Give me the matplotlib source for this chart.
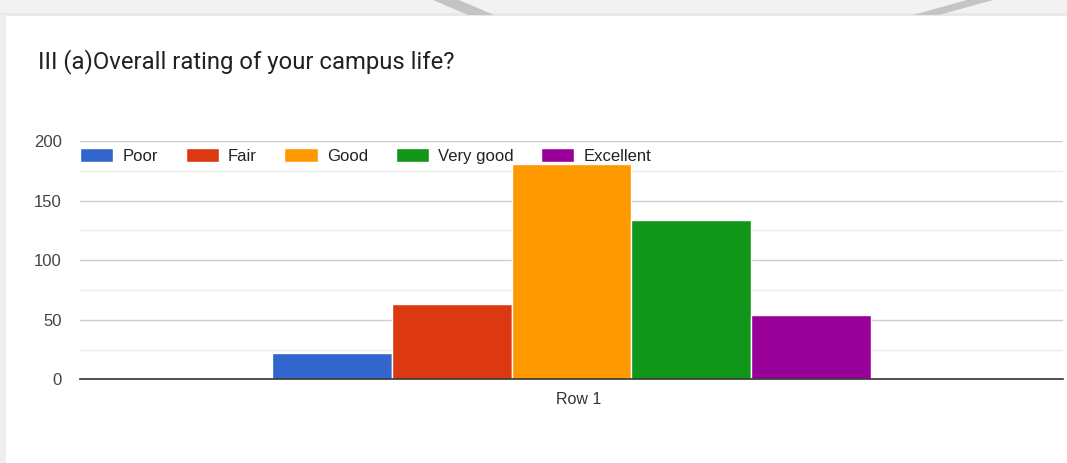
import matplotlib
matplotlib.use("Agg")
import matplotlib.pyplot as plt
import matplotlib.patches as mpatches
import matplotlib.transforms as mtransforms
import numpy as np

categories = ["Row 1"]
series_names = ["Poor", "Fair", "Good", "Very good", "Excellent"]
series_values = [22, 63, 181, 134, 54]
series_colors = ["#3366cc", "#dc3912", "#ff9900", "#109618", "#990099"]
y_ticks = [0, 50, 100, 150, 200]
title = "III (a)Overall rating of your campus life?"

W, H = 1067, 463
fig = plt.figure(figsize=(W / 100, H / 100), dpi=100)
fig.patch.set_facecolor("white")

# screenshot background: top gray band and left strip
fig.patches.append(mpatches.Rectangle((0, 1 - 13 / H), 1, 13 / H, transform=fig.transFigure,
                                      facecolor="#f2f2f2", edgecolor="none", zorder=0))
fig.patches.append(mpatches.Rectangle((0, 1 - 16 / H), 1, 3 / H, transform=fig.transFigure,
                                      facecolor="#e8e8e8", edgecolor="none", zorder=0))
fig.patches.append(mpatches.Rectangle((0, 0), 6 / W, 1 - 14 / H, transform=fig.transFigure,
                                      facecolor="#eeeeee", edgecolor="none", zorder=0))
for (xt, xb) in [(433, 468), (967, 913)]:
    poly = mpatches.Polygon([(xt / W, 1), ((xt + 26) / W, 1), ((xb + 26) / W, 1 - 15 / H), (xb / W, 1 - 15 / H)],
                            closed=True, transform=fig.transFigure, facecolor="#c4c4c4",
                            edgecolor="none", zorder=1)
    fig.patches.append(poly)

left = 80 / W
right_px = 1063
bottom = 1 - 379.3 / H
top = 1 - 141 / H
ax = fig.add_axes([left, bottom, (right_px - 80) / W, top - bottom])
ax.set_facecolor("none")

x = np.arange(len(categories))
group = 0.609
bw = group / len(series_names)
handles = []
for i, (name, val, col) in enumerate(zip(series_names, series_values, series_colors)):
    off = (i - (len(series_names) - 1) / 2) * bw
    b = ax.bar(x + off, [val], width=bw, color=col, edgecolor="white", linewidth=1.0,
               label=name, zorder=3)
    handles.append(b)

ax.set_xlim(-0.5, 0.5)
ax.set_ylim(0, 200)
ax.set_yticks(y_ticks)
ax.set_yticks([25, 75, 125, 175], minor=True)
ax.grid(axis="y", which="major", color="#cccccc", linewidth=1.0, zorder=0)
ax.grid(axis="y", which="minor", color="#ebebeb", linewidth=1.0, zorder=0)
ax.tick_params(axis="y", which="both", length=0, pad=13, labelsize=12, labelcolor="#444444")
ax.set_xticks(x)
ax.set_xticklabels(categories)
ax.tick_params(axis="x", length=0, pad=9, labelsize=11.5, labelcolor="#333333")
for lab in ax.get_xticklabels() + ax.get_yticklabels():
    lab.set_fontfamily("Liberation Sans")
shift = mtransforms.ScaledTranslation(7 / 100, 0, fig.dpi_scale_trans)
for lab in ax.get_xticklabels():
    lab.set_transform(lab.get_transform() + shift)
for s in ["top", "right", "left"]:
    ax.spines[s].set_visible(False)
ax.spines["bottom"].set_color("#333333")
ax.spines["bottom"].set_linewidth(1.2)
ax.spines["bottom"].set_zorder(4)

leg = ax.legend(handles=handles, loc="center left", bbox_to_anchor=(0.0, 1 - (156 - 141) / (379.3 - 141)),
                ncol=5, frameon=False, handlelength=2.0, handleheight=0.85, handletextpad=0.55,
                columnspacing=1.65, borderaxespad=0, borderpad=0,
                prop={"family": "Liberation Sans", "size": 12})
for t in leg.get_texts():
    t.set_color("#222222")
leg.set_zorder(5)

fig.text(38 / W, 1 - 62 / H, title, fontsize=17.2, family="Roboto", color="#202124",
         ha="left", va="center")

fig.savefig("out.png", dpi=100, facecolor=fig.get_facecolor())
